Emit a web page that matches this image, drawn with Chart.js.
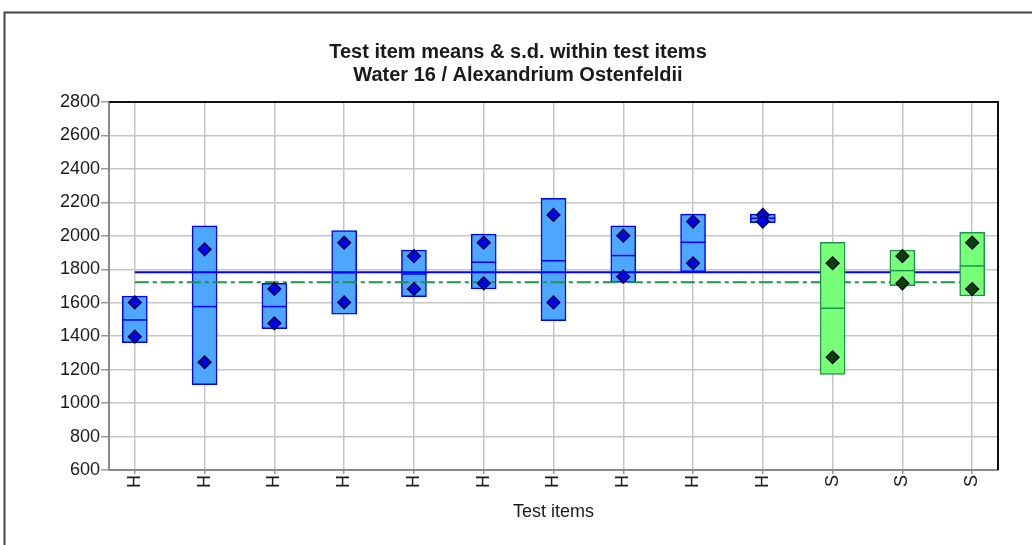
<!DOCTYPE html>
<html>
<head>
<meta charset="utf-8">
<script src="https://cdn.jsdelivr.net/npm/chart.js@4.4.1/dist/chart.umd.min.js"></script>
<style>
  html, body { margin: 0; padding: 0; background: #fff; }
</style>
</head>
<body>
<canvas id="chart" width="1032" height="545"></canvas>
<script>
// values
const itemLabels = ['H', 'H', 'H', 'H', 'H', 'H', 'H', 'H', 'H', 'H', 'S', 'S', 'S'];
const itemMeans  = [1497, 1577, 1577, 1780, 1772, 1842, 1851, 1882, 1961, 2105, 1567, 1792, 1820];
const sdLow      = [1361, 1110, 1445, 1531, 1636, 1682, 1493, 1722, 1786, 2079, 1172, 1702, 1640];
const sdHigh     = [1640, 2059, 1716, 2031, 1915, 2011, 2224, 2059, 2130, 2130, 1961, 1915, 2021];
const rep1       = [1602, 1919, 1682, 1959, 1879, 1959, 2125, 2001, 2085, 2125, 1836, 1879, 1959];
const rep2       = [1397, 1244, 1477, 1602, 1682, 1716, 1602, 1756, 1836, 2085, 1274, 1716, 1682];
const overallMean = 1782;
const assignedMean = 1722;
const yMin = 600, yMax = 2800, yStep = 200;

const C = {
  hFill: '#4da6ff', hLine: '#0000ff', hDot: '#0000e6',
  sFill: '#78ff78', sLine: '#1f9448', sDot: '#073f07',
  dotEdge: '#000022',
  grid: '#c6c6c6', axis: '#8a8a8a', text: '#1a1a1a'
};

const isH = l => l === 'H';
const boxesFor = g => itemLabels
  .map((l, i) => (l === g ? { x: i + 1, y: [sdLow[i], sdHigh[i]] } : null))
  .filter(Boolean);
const pts = arr => arr.map((v, i) => ({ x: i + 1, y: v }));
const byGroup = (a, b) => itemLabels.map(l => (isH(l) ? a : b));
const n = itemLabels.length;

const framePlugin = {
  id: 'frame',
  afterDraw(chart) {
    const { ctx, chartArea: a } = chart;
    ctx.save();
    // outer frame of the picture
    ctx.strokeStyle = '#444';
    ctx.lineWidth = 2;
    ctx.beginPath();
    ctx.moveTo(4.5, 545);
    ctx.lineTo(4.5, 12.5);
    ctx.lineTo(1032, 12.5);
    ctx.stroke();
    // top and right border of the plot
    ctx.strokeStyle = '#111';
    ctx.beginPath();
    ctx.moveTo(a.left, a.top);
    ctx.lineTo(a.right, a.top);
    ctx.lineTo(a.right, a.bottom);
    ctx.stroke();
    ctx.restore();
  }
};

new Chart(document.getElementById('chart'), {
  type: 'bar',
  data: {
    datasets: [
      {
        label: 'H sd', data: boxesFor('H'), order: 6,
        backgroundColor: C.hFill, borderColor: C.hLine, borderWidth: 1.5,
        borderSkipped: false, barThickness: 25
      },
      {
        type: 'line', label: 'mean', order: 5,
        data: [{ x: 1, y: overallMean }, { x: n, y: overallMean }],
        borderColor: C.hLine, borderWidth: 2, pointRadius: 0
      },
      {
        type: 'line', label: 'assigned', order: 4,
        data: [{ x: 1, y: assignedMean }, { x: n, y: assignedMean }],
        borderColor: C.sLine, borderWidth: 2, borderDash: [14, 4, 4, 4], pointRadius: 0
      },
      {
        label: 'S sd', data: boxesFor('S'), order: 3,
        backgroundColor: C.sFill, borderColor: C.sLine, borderWidth: 1.5,
        borderSkipped: false, barThickness: 25
      },
      {
        type: 'line', label: 'item mean', order: 2, showLine: false,
        data: pts(itemMeans),
        pointStyle: 'line', pointRadius: 12.5, pointBorderWidth: 1.5,
        pointBorderColor: byGroup(C.hLine, C.sLine)
      },
      {
        type: 'line', label: 'replicates', order: 1, showLine: false,
        data: pts(rep1).concat(pts(rep2)),
        pointStyle: 'rectRot', pointRadius: 6.5, pointBorderWidth: 1.2,
        pointBackgroundColor: byGroup(C.hDot, C.sDot).concat(byGroup(C.hDot, C.sDot)),
        pointBorderColor: C.dotEdge
      }
    ]
  },
  options: {
    responsive: false,
    animation: false,
    devicePixelRatio: 1,
    layout: { padding: { top: 0, right: 15, bottom: 0, left: 19 } },
    datasets: { bar: { grouped: false } },
    plugins: {
      legend: { display: false },
      tooltip: { enabled: false },
      title: {
        display: true,
        text: ['Test item means & s.d. within test items', 'Water 16 / Alexandrium Ostenfeldii'],
        color: C.text,
        font: { family: 'Liberation Sans', size: 20, weight: 'bold', lineHeight: 1.15 },
        padding: { top: 41, bottom: 15 }
      }
    },
    scales: {
      x: {
        type: 'linear',
        offset: false,
        min: 0.63, max: 13.37,
        afterBuildTicks: s => { s.ticks = itemLabels.map((_, i) => ({ value: i + 1 })); },
        afterFit: s => { s.height = 75; },
        grid: { offset: false, color: C.grid, lineWidth: 1.5, tickLength: 4, tickColor: '#999' },
        border: { color: C.axis, width: 2 },
        ticks: {
          autoSkip: false, minRotation: 90, maxRotation: 90, padding: 1,
          color: C.text,
          font: { family: 'Liberation Sans', size: 18 },
          callback: v => itemLabels[v - 1] || ''
        },
        title: {
          display: true, text: 'Test items', color: C.text,
          font: { family: 'Liberation Sans', size: 18 },
          padding: { top: 0, bottom: 22 }
        }
      },
      y: {
        min: yMin, max: yMax,
        afterFit: s => { s.width = 90; },
        grid: { color: C.grid, lineWidth: 1.5, tickLength: 8, tickColor: '#999' },
        border: { color: C.axis, width: 2 },
        ticks: {
          stepSize: yStep, padding: 1, color: C.text,
          font: { family: 'Liberation Sans', size: 18 },
          callback: v => String(v)
        }
      },
      // empty right strip so the plot ends where the reference does
      yRight: {
        position: 'right', min: yMin, max: yMax,
        afterFit: s => { s.width = 19; },
        grid: { display: false, drawOnChartArea: false },
        border: { display: false },
        ticks: { display: false }
      }
    }
  },
  plugins: [framePlugin]
});
</script>
</body>
</html>
